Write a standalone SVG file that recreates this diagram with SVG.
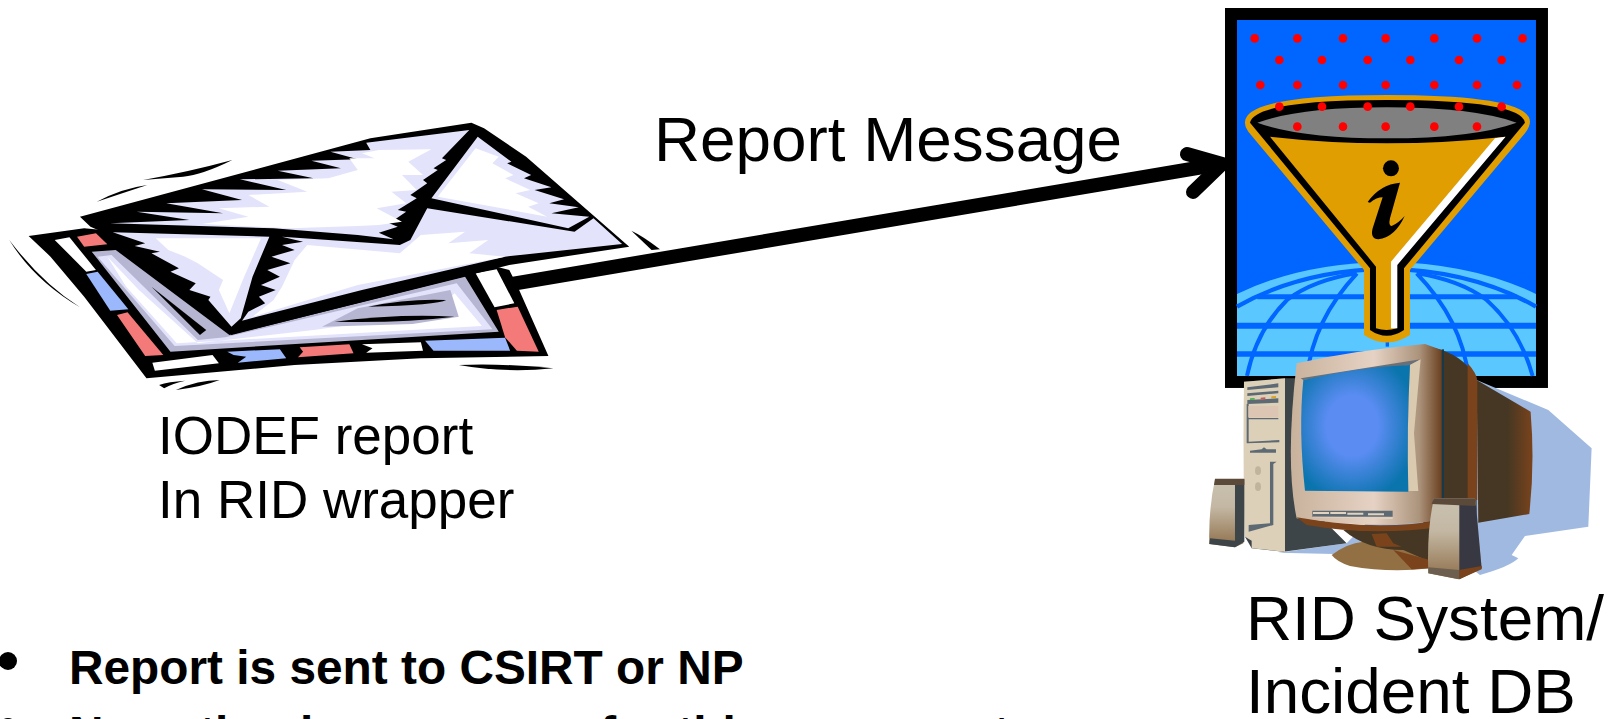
<svg xmlns="http://www.w3.org/2000/svg" width="1608" height="719" viewBox="0 0 1608 719">
<defs>
<radialGradient id="scr" cx="0.47" cy="0.48" r="0.6"><stop offset="0.4" stop-color="#5a8cf2"/><stop offset="1" stop-color="#0a74ad"/></radialGradient>
<linearGradient id="bez" x1="0" x2="1" y1="0" y2="0"><stop offset="0" stop-color="#c8b29c"/><stop offset="0.55" stop-color="#e6d2c4"/><stop offset="0.85" stop-color="#ac947c"/><stop offset="1" stop-color="#6b4020"/></linearGradient>
<linearGradient id="spk" x1="0" x2="0" y1="0" y2="1"><stop offset="0" stop-color="#c9c1b0"/><stop offset="0.4" stop-color="#c4b8a4"/><stop offset="1" stop-color="#8f6f4a"/></linearGradient>
<linearGradient id="side" x1="0" x2="1" y1="0" y2="0"><stop offset="0" stop-color="#453723"/><stop offset="0.55" stop-color="#453723"/><stop offset="1" stop-color="#7a431c"/></linearGradient>
</defs>
<style>
text{font-family:"Liberation Sans",Arial,sans-serif;fill:#000}
.m{font-size:63.800px}
.s{font-size:53px}
.b{font-size:47.800px;font-weight:bold}
.k{fill:#000}.p{fill:#e3e3fb}.w{fill:#fff}.r{fill:#f47a7a}.u{fill:#9ab8fb}.g{fill:#b6b6d2}
.d{fill:#f00}
.gl{fill:none;stroke:#0066ff}
.ln{fill:#5d6973}
</style>

<g id="connectors">
<path d="M500 286L1215 165" stroke="#000" stroke-width="14" fill="none"/>
<path d="M1187 154L1222 164L1193 192" stroke="#000" stroke-width="14" stroke-linecap="round" stroke-linejoin="miter" fill="none"/>
</g>

<g id="report-envelopes" transform="translate(0,100) scale(0.4209,0.3333)">
<path class="k" d="M68 408L200 385L1180 500L1210 510L1230 560L1303 768L1000 775L700 795L348 835L200 590L120 470Z"/>
<path class="w" d="M130 420L165 412L228 510L205 515Z"/>
<path class="r" d="M183 410L228 400L255 433L200 440Z"/>
<path class="u" d="M205 522L232 515L305 628L262 632Z"/>
<path class="r" d="M278 645L303 637L388 765L345 768Z"/>
<path class="w" d="M362 788L505 765L520 790L368 812Z"/>
<path class="u" d="M540 755L665 748L680 775L565 788L585 770L555 765Z"/>
<path class="r" d="M712 742L830 733L840 760L708 772L720 755Z"/>
<path class="w" d="M860 733L1000 727L1005 752L870 758L885 745Z"/>
<path class="u" d="M1010 722L1200 713L1212 752L1030 752Z"/>
<path class="r" d="M1180 630L1230 620L1280 755L1228 752L1200 712Z"/>
<path class="w" d="M1130 520L1180 508L1222 610L1175 622Z"/>
<path class="g" d="M218 455L275 450L545 705L1105 530L1185 695L405 755Z"/>
<path class="p" d="M232 470L265 465L470 720L535 712L1085 550L1170 688L415 738Z"/>
<path class="w" d="M255 470L330 570L470 730L745 690L1030 640L1080 580L1145 678L420 730L300 560Z"/>
<path class="g" d="M765 680L850 625L1070 570L1090 650L980 672Z"/>
<path class="k" d="M360 560L490 690L475 705Z"/>
<path class="k" d="M875 620Q970 595 1060 600Q1040 615 875 620Z"/>
<path class="k" d="M795 665Q950 640 1080 650Q950 670 795 665Z"/>
<path class="k" d="M190 350L880 115L1120 68L1150 85L1250 170L1495 440L1210 495L550 705L490 640L370 510L250 400L215 380Z"/>
<path class="p" d="M262 370L450 360L325 335L530 340L395 310L575 300L480 268L680 270L570 238L745 235L660 212L810 205L740 182L850 178L785 155L880 150L870 128L1115 90L1050 175L1060 180L1030 205L1040 210L1005 240L1015 250L975 285L990 295L945 330L965 335L925 370L945 380L900 398L935 418L850 405L650 385Z"/>
<path class="w" d="M900 150L1025 148L970 185L1005 225L955 225L990 270L930 275L965 310L895 325L955 365L900 375L850 378L690 385L480 372L590 350L520 325L640 320L590 285L730 275L660 240L780 235L850 210L830 175L890 175L860 160Z"/>
<path class="p" d="M1135 110L1215 185L1205 190L1262 225L1245 235L1310 262L1270 270L1340 298L1305 310L1375 322L1310 340L1400 350L1350 385L1025 295Z"/>
<path class="w" d="M1130 145L1185 170L1170 190L1220 225L1200 235L1260 270L1225 280L1280 310L1255 320L1300 350L1040 290Z"/>
<path class="p" d="M268 397L640 410L600 530L572 655L550 680L495 600L500 590L450 570L465 550L405 515L425 505L360 460L380 455L320 438L345 430Z"/>
<path class="w" d="M370 415L620 415L580 530L545 640L520 570L530 540L470 490L440 470L400 450Z"/>
<path class="p" d="M670 410L950 435L975 420L1015 325L1365 395L1410 355L1478 432L1200 470L860 570L575 662L590 635L630 610L615 590L655 570L620 555L665 530L635 510L690 490L645 470L700 450L670 435L720 425Z"/>
<path class="w" d="M730 435L950 460L1000 405L1105 395L1065 430L1160 420L1115 460L1200 470L850 555L600 650L650 600L670 560L700 480Z"/>
<path class="k" d="M22 420Q80 540 190 622Q100 550 22 420Z"/>
<path class="k" d="M340 240Q450 215 552 180Q480 225 435 230Z"/>
<path class="k" d="M230 305Q290 265 350 255Q290 280 230 305Z"/>
<path class="k" d="M1090 795Q1200 790 1315 805Q1200 820 1090 795Z"/>
<path class="k" d="M378 855Q400 845 440 842Q410 850 390 865Z"/>
<path class="k" d="M418 870Q470 840 522 840Q480 860 418 870Z"/>
<path class="k" d="M1500 392Q1530 410 1568 448L1548 450Z"/>
</g>

<g id="rid-funnel" transform="translate(1200,0) scale(0.3333)">
<rect x="75" y="24" width="969" height="1140" fill="#000"/>
<rect x="111" y="60" width="897" height="1068" fill="#0066ff"/>
<path d="M111 882Q300 790 560 785Q820 790 1008 882V1128H111Z" fill="#5ac8ff"/>
<g class="gl">
<path stroke-width="13" d="M111 920Q300 812 560 806Q820 812 1008 920"/>
<path stroke-width="15" d="M172 890H950"/>
<path stroke-width="18" d="M111 977H1008"/>
<path stroke-width="16" d="M111 1062H1008"/>
<path stroke-width="12" d="M141 1128Q170 990 261 900Q340 840 470 820M321 1128Q340 960 471 820M998 1128Q960 990 860 900Q780 840 650 820M805 1128Q785 960 650 820"/>
<path stroke-width="10" d="M562 1020V1040"/>
</g>
<path d="M135 365Q140 285 560 285Q990 285 990 365Q990 380 975 400L630 810V1005Q560 1050 492 1005V810L145 395Q133 380 135 365Z" fill="#e09e00"/>
<path d="M150 368Q165 300 560 300Q965 300 975 368L612 805V990Q560 1025 510 990V805Z" fill="#000"/>
<path d="M210 410Q560 450 915 410L590 790V985Q560 995 528 985V800Z" fill="#e09e00"/>
<path d="M917 410L885 415L573 785V985H592V795Z" fill="#fff"/>
<path d="M172 368Q300 322 560 322Q820 322 950 368Q820 415 560 415Q300 415 172 368Z" fill="#808080"/>
<circle cx="573" cy="505" r="24" fill="#000"/>
<path d="M503 606Q540 553 600 548L570 655Q565 678 575 678Q595 670 614 648Q585 712 535 718Q510 717 518 685L548 592Q530 592 510 608Z" fill="#000"/>
<g class="d">
<circle cx="164" cy="115" r="13"/><circle cx="292" cy="115" r="13"/><circle cx="429" cy="115" r="13"/><circle cx="557" cy="115" r="13"/><circle cx="703" cy="115" r="13"/><circle cx="831" cy="115" r="13"/><circle cx="968" cy="115" r="13"/>
<circle cx="238" cy="180" r="13"/><circle cx="366" cy="180" r="13"/><circle cx="503" cy="180" r="13"/><circle cx="631" cy="180" r="13"/><circle cx="777" cy="180" r="13"/><circle cx="905" cy="180" r="13"/>
<circle cx="181" cy="255" r="13"/><circle cx="292" cy="255" r="13"/><circle cx="429" cy="255" r="13"/><circle cx="557" cy="255" r="13"/><circle cx="703" cy="255" r="13"/><circle cx="831" cy="255" r="13"/><circle cx="951" cy="255" r="13"/>
<circle cx="238" cy="320" r="13"/><circle cx="366" cy="320" r="13"/><circle cx="503" cy="320" r="13"/><circle cx="631" cy="320" r="13"/><circle cx="777" cy="320" r="13"/><circle cx="905" cy="320" r="13"/>
<circle cx="292" cy="380" r="13"/><circle cx="429" cy="380" r="13"/><circle cx="557" cy="380" r="13"/><circle cx="703" cy="380" r="13"/><circle cx="831" cy="380" r="13"/>
</g>
</g>

<g id="rid-computer" transform="translate(1190,330) scale(0.3333)">
<path d="M860 150L1075 240L1205 355L1195 590L1005 618L965 675L985 685Q960 710 870 735L800 680L265 668L470 640L800 300Z" fill="#a0b9e1"/>
<path d="M860 150L1022 245Q1035 400 1018 552L865 578Z" fill="url(#side)"/>
<path d="M425 675Q470 640 520 635L720 640V715Q600 730 480 708Q440 695 425 675Z" fill="#937044"/>
<path d="M460 600L720 590V695L640 660Q530 660 460 600Z" fill="#453723"/>
<path d="M545 612L590 610L610 640L635 650L560 650Z" fill="#7a431c"/>
<path d="M610 660L720 690V715L665 718Z" fill="#7a431c"/>
<path d="M700 45L755 60Q830 85 860 150V590L720 600H700Z" fill="#453723"/>
<path d="M833 100Q860 130 862 152V510H833Z" fill="#7a431c"/>
<path d="M755 58H762V505H755Z" fill="#18394a"/>
<path d="M162 155L285 145H330V500L470 640L280 665L185 655L165 620Z" fill="#3d4548"/>
<path d="M162 155L285 145V665L185 655V632L165 620Q158 400 162 155Z" fill="#ddd0b8"/>
<path class="ln" d="M172 172L265 160V172L172 180ZM172 190L265 182V190L172 198ZM172 210L265 205V218L172 222ZM170 222H176V335L268 330V337L170 340ZM172 264H265V268H172ZM180 362L215 358L222 352L230 358H258V368H180ZM240 395H260L250 402V585L176 605V585L240 580Z"/>
<path d="M175 228L265 228V262H175Z" fill="#dcc5b2"/>
<path d="M180 205L194 204V209L180 210Z" fill="#4caf50"/><path d="M212 203L226 202V207L212 208Z" fill="#d9534f"/><path d="M244 199L258 198V204L244 205Z" fill="#d9a520"/>
<ellipse cx="204" cy="422" rx="9" ry="13" fill="#c2b49c"/><ellipse cx="204" cy="470" rx="9" ry="13" fill="#c2b49c"/>
<path d="M320 100Q500 60 705 42L755 60V570Q560 600 320 565Q285 400 320 100Z" fill="url(#bez)"/>
<path d="M320 562Q560 605 755 570V590Q550 620 350 585Z" fill="#7a431c"/>
<path d="M332 145L692 88L660 105L340 150Z" fill="#6a7078"/>
<path d="M660 105L692 88L672 310L685 483H655Q650 300 660 105Z" fill="#dacab0"/>
<path d="M340 150Q500 112 660 105Q650 300 655 485L345 482Q325 300 340 150Z" fill="url(#scr)"/>
<path class="ln" d="M367 542H608V560H367Z"/>
<path d="M369 546H417V552H369ZM421 546H468V552H421ZM472 548H520V554H472ZM534 550H582V556H534ZM369 560L608 562V567L369 562Z" fill="#e2d2c0"/>
<path d="M75 448H160V640L135 652L58 642Q55 540 75 448Z" fill="url(#spk)"/>
<path d="M135 448H163V635L135 652Z" fill="#3d4548"/>
<path d="M75 446H163V465H72Z" fill="#5b4a3a"/>
<path d="M60 625L135 632V652L58 642Z" fill="#3d4548"/>
<path d="M732 505H855L875 715L805 748L715 730Q710 600 732 505Z" fill="url(#spk)"/>
<path d="M808 525H858L875 715L808 748Z" fill="#383843"/>
<path d="M732 505H855L858 528L725 522Z" fill="#5b4a3a"/>
<path d="M715 712L808 720V748L715 730Z" fill="#6d5f50"/>
<path d="M808 720L875 708V718L808 748Z" fill="#7a431c"/>
</g>

<g id="labels">
<text class="m" x="654" y="161">Report Message</text>
<text class="s" x="158" y="454">IODEF report</text>
<text class="s" x="158" y="518">In RID wrapper</text>
<text class="m" x="1246" y="640">RID System/</text>
<text class="m" x="1246" y="713">Incident DB</text>
<circle cx="8" cy="661" r="9" fill="#000"/>
<text class="b" x="69" y="684">Report is sent to CSIRT or NP</text>
<circle cx="8" cy="727" r="9" fill="#000"/>
<text class="b" x="69" y="750">No action is necessary for this message to</text>
</g>
</svg>
